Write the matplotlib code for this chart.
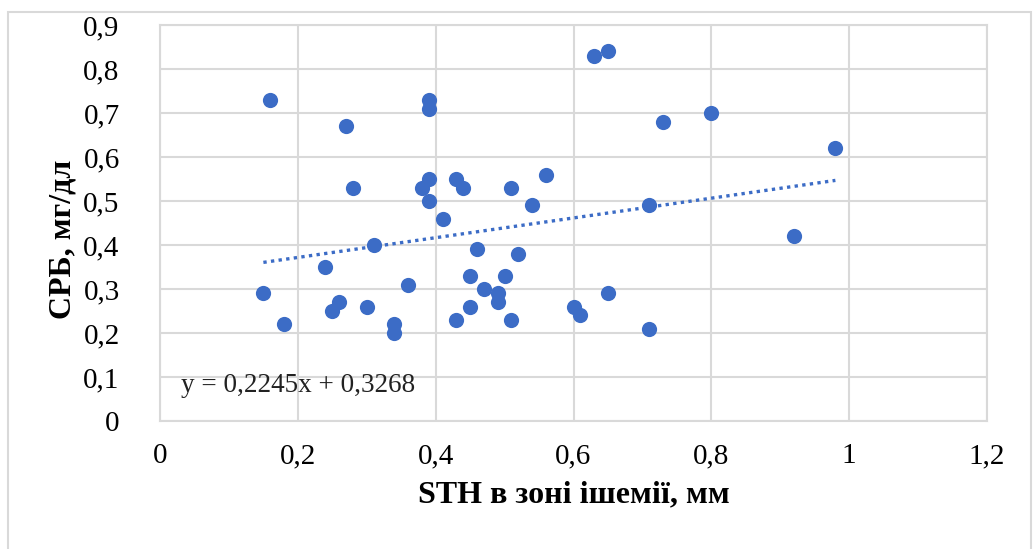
import numpy as np
import matplotlib
matplotlib.use('Agg')
import matplotlib.pyplot as plt
from matplotlib.patches import Rectangle

plt.rcParams['font.family'] = ['Liberation Serif', 'DejaVu Serif']

# STH in ischemia zone (mm) vs CRP (mg/dl)
sth = [0.16, 0.27, 0.39, 0.39, 0.28, 0.39, 0.38, 0.43, 0.44, 0.51,
       0.56, 0.39, 0.54, 0.41, 0.31, 0.46, 0.52, 0.24, 0.45, 0.50,
       0.36, 0.15, 0.47, 0.49, 0.49, 0.26, 0.25, 0.30, 0.45, 0.18,
       0.34, 0.34, 0.43, 0.51, 0.60, 0.61, 0.63, 0.65, 0.73, 0.80,
       0.98, 0.71, 0.92, 0.65, 0.71]
crp = [0.73, 0.67, 0.73, 0.71, 0.53, 0.55, 0.53, 0.55, 0.53, 0.53,
       0.56, 0.50, 0.49, 0.46, 0.40, 0.39, 0.38, 0.35, 0.33, 0.33,
       0.31, 0.29, 0.30, 0.29, 0.27, 0.27, 0.25, 0.26, 0.26, 0.22,
       0.22, 0.20, 0.23, 0.23, 0.26, 0.24, 0.83, 0.84, 0.68, 0.70,
       0.62, 0.49, 0.42, 0.29, 0.21]
slope = 0.2245
intercept = 0.3268

xticks = [0, 0.2, 0.4, 0.6, 0.8, 1.0, 1.2]
xtick_labels = ['0', '0,2', '0,4', '0,6', '0,8', '1', '1,2']
yticks = [0, 0.1, 0.2, 0.3, 0.4, 0.5, 0.6, 0.7, 0.8, 0.9]
ytick_labels = ['0', '0,1', '0,2', '0,3', '0,4', '0,5', '0,6', '0,7', '0,8', '0,9']

blue = '#3c6cc6'
grid_c = '#d9d9d9'

fig = plt.figure(figsize=(10.35, 5.49), dpi=100)
ax = fig.add_axes([160/1035, 1 - 421/549, 827/1035, 396/549])

# outer frame of the chart
fig.patches.append(Rectangle((8/1035, -0.01), 1023/1035, 1 - 12/549 + 0.01,
                             transform=fig.transFigure, fill=False,
                             edgecolor=grid_c, linewidth=1.5))

ax.scatter(sth, crp, s=120, color=blue, zorder=3, linewidths=0)

xs = np.array([min(sth), max(sth)])
ax.plot(xs, slope * xs + intercept, color=blue, linestyle=(0, (1, 1.3)),
        linewidth=2.4, zorder=2)

ax.text(0.03, 0.08, 'y = 0,2245x + 0,3268', fontsize=19.5, va='center',
        ha='left', color='#222222')

ax.set_xlim(0, 1.2)
ax.set_ylim(0, 0.9)
ax.set_xticks(xticks)
ax.set_xticklabels(xtick_labels, fontsize=21)
ax.set_yticks(yticks)
ax.set_yticklabels(ytick_labels, fontsize=21)
ax.tick_params(axis='x', length=0, pad=16)
ax.tick_params(axis='y', length=0, pad=29)
ax.grid(True, color=grid_c, linewidth=1.5, zorder=0)
ax.set_axisbelow(True)
for sp in ax.spines.values():
    sp.set_color(grid_c)
    sp.set_linewidth(1.5)

ax.set_xlabel('STH в зоні ішемії, мм', fontsize=23, fontweight='bold', labelpad=8)
ax.set_ylabel('СРБ, мг/дл', fontsize=23, fontweight='bold')
ax.yaxis.set_label_coords(-0.1, 0.46)

fig.savefig('out.png', dpi=100)
